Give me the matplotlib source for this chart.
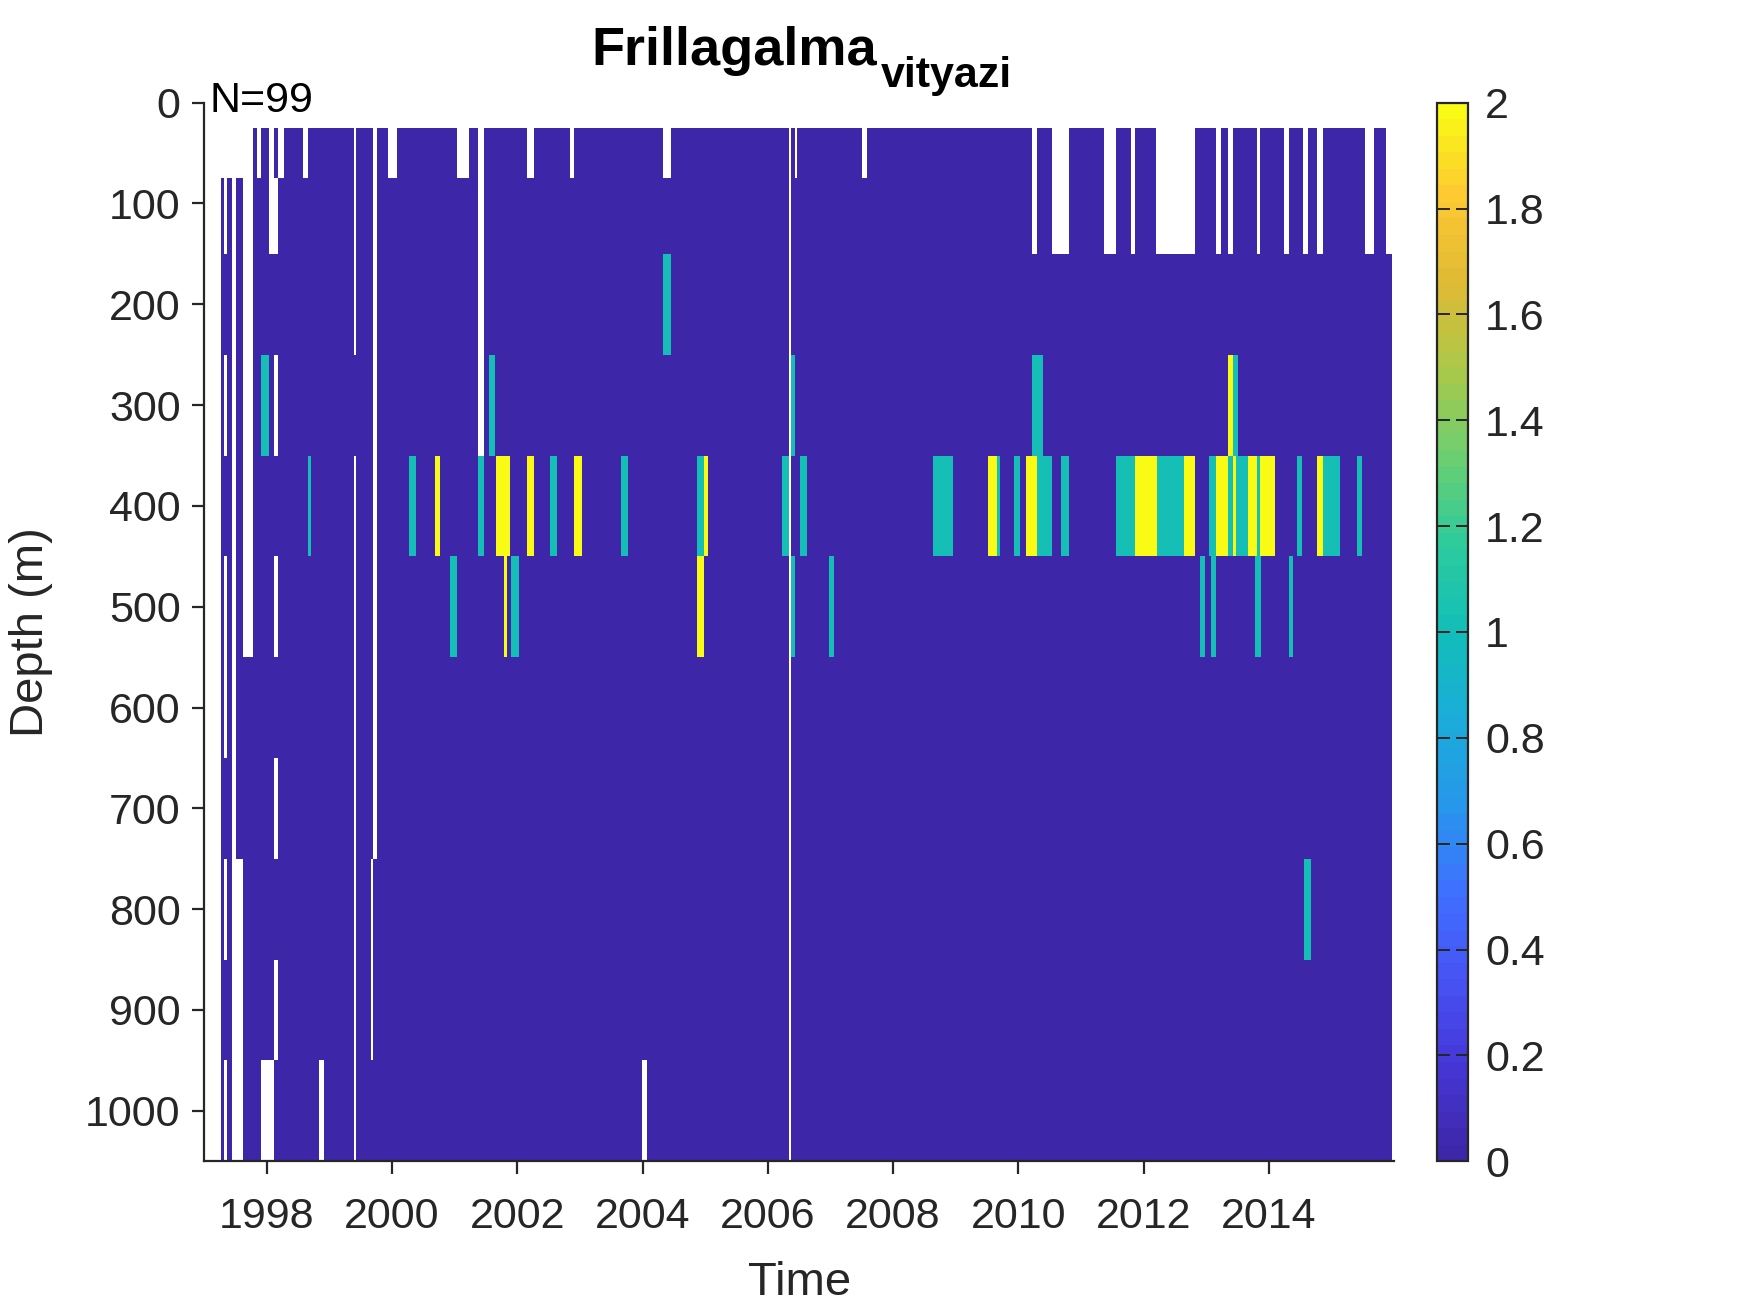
import numpy as np
import matplotlib
matplotlib.use('Agg')
import matplotlib.pyplot as plt
from matplotlib.colors import LinearSegmentedColormap
from matplotlib.ticker import FuncFormatter

plt.rcParams['font.family'] = ['Liberation Sans', 'DejaVu Sans']

# depth bins (m): cell edges and the sampled depths
depth_edges = [25, 75, 150, 250, 350, 450, 550, 650, 750, 850, 950, 1050]
depth_centers = [50, 100, 200, 300, 400, 500, 600, 700, 800, 900, 1000]

# early casts 1997-1998: one char per depth, '.' = not sampled
early_casts = [
    (1997.26, 1997.32, '.0000000000'),
    (1997.32, 1997.37, '..0.0..0.0.'),
    (1997.37, 1997.44, '.0000000000'),
    (1997.50, 1997.62, '.0000000...'),
    (1997.62, 1997.78, '......00000'),
    (1997.78, 1997.84, '00000000000'),
    (1997.84, 1997.91, '.0000000000'),
    (1997.91, 1998.03, '0001000000.'),
    (1998.03, 1998.11, '..00000000.'),
    (1998.11, 1998.18, '0.0.0.0.0.0'),
    (1998.18, 1998.28, '.0000000000'),
]
survey_start, survey_end = 1998.28, 2015.97

# not sampled: (t0, t1, depth top, depth bottom)
gaps = [
    (1998.57, 1998.65, 25, 75),
    (1998.83, 1998.92, 950, 1050),
    (1999.39, 1999.42, 25, 250),
    (1999.39, 1999.42, 350, 1050),
    (1999.70, 1999.76, 25, 750),
    (1999.66, 1999.70, 750, 950),
    (1999.94, 2000.07, 25, 75),
    (2001.03, 2001.23, 25, 75),
    (2001.37, 2001.47, 25, 350),
    (2002.16, 2002.26, 25, 75),
    (2002.84, 2002.90, 25, 75),
    (2003.99, 2004.07, 950, 1050),
    (2004.32, 2004.45, 25, 75),
    (2006.34, 2006.37, 25, 1050),
    (2006.43, 2006.46, 25, 75),
    (2007.50, 2007.59, 25, 75),
    (2010.22, 2010.30, 25, 150),
    (2010.54, 2010.80, 25, 150),
    (2011.36, 2011.55, 25, 150),
    (2011.79, 2011.86, 25, 150),
    (2012.20, 2012.82, 25, 150),
    (2013.15, 2013.23, 25, 150),
    (2013.34, 2013.43, 25, 150),
    (2013.81, 2013.86, 25, 150),
    (2014.24, 2014.32, 25, 150),
    (2014.54, 2014.63, 25, 150),
    (2014.77, 2014.87, 25, 150),
    (2015.53, 2015.68, 25, 150),
    (2015.87, 2015.97, 25, 150),
]

# counts: (t0, t1, depth, count)
hits = [
    (2004.32, 2004.45, 200, 1),
    (2001.55, 2001.65, 300, 1),
    (2006.37, 2006.43, 300, 1),
    (2010.22, 2010.40, 300, 1),
    (2013.34, 2013.43, 300, 2),
    (2013.43, 2013.50, 300, 1),
    (1998.65, 1998.71, 400, 1),
    (2000.27, 2000.38, 400, 1),
    (2000.69, 2000.76, 400, 2),
    (2001.37, 2001.47, 400, 1),
    (2001.66, 2001.89, 400, 2),
    (2002.16, 2002.26, 400, 2),
    (2002.52, 2002.63, 400, 1),
    (2002.90, 2003.03, 400, 2),
    (2003.65, 2003.76, 400, 1),
    (2004.86, 2004.98, 400, 1),
    (2004.98, 2005.05, 400, 2),
    (2006.23, 2006.34, 400, 1),
    (2006.52, 2006.62, 400, 1),
    (2008.63, 2008.96, 400, 1),
    (2009.52, 2009.65, 400, 2),
    (2009.65, 2009.71, 400, 1),
    (2009.93, 2010.02, 400, 1),
    (2010.12, 2010.30, 400, 2),
    (2010.30, 2010.54, 400, 1),
    (2010.68, 2010.80, 400, 1),
    (2011.55, 2011.86, 400, 1),
    (2011.86, 2012.21, 400, 2),
    (2012.21, 2012.65, 400, 1),
    (2012.65, 2012.82, 400, 2),
    (2013.05, 2013.15, 400, 1),
    (2013.15, 2013.34, 400, 2),
    (2013.34, 2013.43, 400, 1),
    (2013.43, 2013.48, 400, 2),
    (2013.48, 2013.66, 400, 1),
    (2013.66, 2013.81, 400, 2),
    (2013.81, 2013.86, 400, 1),
    (2013.86, 2014.09, 400, 2),
    (2014.45, 2014.53, 400, 1),
    (2014.77, 2014.86, 400, 2),
    (2014.86, 2015.13, 400, 1),
    (2015.41, 2015.48, 400, 1),
    (2000.92, 2001.04, 500, 1),
    (2001.78, 2001.84, 500, 2),
    (2001.90, 2002.03, 500, 1),
    (2004.86, 2004.98, 500, 2),
    (2006.37, 2006.43, 500, 1),
    (2006.97, 2007.06, 500, 1),
    (2012.90, 2012.98, 500, 1),
    (2013.07, 2013.16, 500, 1),
    (2013.78, 2013.87, 500, 1),
    (2014.32, 2014.38, 500, 1),
    (2014.56, 2014.67, 800, 1),
]

year_ticks = list(range(1998, 2015, 2))
depth_ticks = list(range(0, 1001, 100))
cbar_ticks = [0, 0.2, 0.4, 0.6, 0.8, 1, 1.2, 1.4, 1.6, 1.8, 2]

# parula-like colormap
parula_anchors = [
    (0.2422, 0.1504, 0.6603), (0.2706, 0.2147, 0.8362), (0.2810, 0.3228, 0.9579),
    (0.2440, 0.4358, 0.9988), (0.1540, 0.5902, 0.9218), (0.1060, 0.6750, 0.8500),
    (0.0704, 0.7457, 0.7258), (0.1758, 0.7938, 0.6143), (0.4196, 0.8110, 0.4460),
    (0.6643, 0.7868, 0.2925), (0.8733, 0.7299, 0.2050), (0.9956, 0.7820, 0.2021),
    (0.9769, 0.9839, 0.0805),
]
parula = LinearSegmentedColormap.from_list('parula', parula_anchors, N=64)

# build the grid
bounds = {1997.0, survey_start, survey_end}
for t0, t1, _ in early_casts:
    bounds |= {t0, t1}
for t0, t1, _, _ in gaps:
    bounds |= {t0, t1}
for t0, t1, _, _ in hits:
    bounds |= {t0, t1}
t_edges = np.array(sorted(bounds))
t_mid = (t_edges[:-1] + t_edges[1:]) / 2
dc = np.array(depth_centers)

Z = np.full((len(dc), len(t_mid)), np.nan)
Z[:, (t_mid > survey_start) & (t_mid < survey_end)] = 0
for t0, t1, prof in early_casts:
    cols = (t_mid > t0) & (t_mid < t1)
    for i, ch in enumerate(prof):
        if ch != '.':
            Z[i, cols] = float(ch)
for t0, t1, d0, d1 in gaps:
    Z[np.ix_((dc > d0) & (dc < d1), (t_mid > t0) & (t_mid < t1))] = np.nan
for t0, t1, d, v in hits:
    Z[np.ix_(dc == d, (t_mid > t0) & (t_mid < t1))] = v

fig = plt.figure(figsize=(17.5, 13.13), dpi=100)
ax = fig.add_axes([0.1167, 0.1156, 0.680, 0.8062])
mesh = ax.pcolormesh(t_edges, depth_edges, np.ma.masked_invalid(Z), cmap=parula,
                     vmin=0, vmax=2, shading='flat', antialiased=False, linewidth=0)

ax.set_xlim(1997, 2016)
ax.set_ylim(1050, 0)
ax.set_xticks(year_ticks)
ax.set_yticks(depth_ticks)
dark = '#262626'
for s in ['top', 'right']:
    ax.spines[s].set_visible(False)
for s in ['left', 'bottom']:
    ax.spines[s].set_color(dark)
    ax.spines[s].set_linewidth(1.6)
ax.tick_params(direction='out', length=9, width=1.6, colors=dark, labelsize=31)
ax.tick_params(axis='x', pad=17)
ax.tick_params(axis='y', pad=8)

ax.set_xlabel('Time', fontsize=34, color=dark)
ax.set_ylabel('Depth (m)', fontsize=34, color=dark)
ax.xaxis.set_label_coords(0.5, -0.094)
ax.yaxis.set_label_coords(-0.127, 0.5)

ax.text(1997.09, 9, 'N=99', fontsize=31, ha='left', va='baseline', clip_on=False)

t1 = fig.text(0.338, 0.9507, 'Frillagalma', fontsize=39, fontweight='bold',
              ha='left', va='baseline')
ax.annotate('vityazi', xy=(1, 0), xycoords=t1, xytext=(3, -8),
            textcoords='offset points', fontsize=31, fontweight='bold',
            ha='left', va='baseline', annotation_clip=False)

cax = fig.add_axes([0.821, 0.1156, 0.018, 0.8062])
cb = fig.colorbar(mesh, cax=cax, ticks=cbar_ticks)
cb.outline.set_edgecolor(dark)
cb.outline.set_linewidth(1.6)
cax.tick_params(direction='in', left=True, right=True, length=9, width=1.4,
                colors=dark, labelsize=31, pad=12)
cax.yaxis.set_major_formatter(FuncFormatter(lambda v, p: '%g' % v))

fig.savefig('out.png', dpi=100)
